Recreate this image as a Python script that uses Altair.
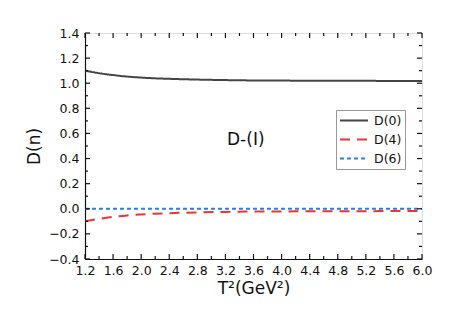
import altair as alt
import pandas as pd

# Data
t2 = [1.2, 1.4, 1.6, 1.8, 2.0, 2.2, 2.4, 2.8, 3.2, 3.6, 4.0, 4.4, 4.8, 5.2, 5.6, 6.0]
d0 = [1.100, 1.080, 1.065, 1.053, 1.045, 1.039, 1.035, 1.029, 1.025, 1.022, 1.021, 1.020, 1.019, 1.019, 1.018, 1.018]
d4 = [-0.100, -0.080, -0.065, -0.053, -0.045, -0.039, -0.035, -0.029, -0.025, -0.022, -0.021, -0.020, -0.019, -0.019, -0.018, -0.018]
d6 = [0.0] * len(t2)
series = ["D(0)", "D(4)", "D(6)"]
colors = ["#444444", "#ee3333", "#2a7ee8"]
dashes = [[1, 0], [10, 7], [4, 3]]

x_major = [1.2, 1.6, 2.0, 2.4, 2.8, 3.2, 3.6, 4.0, 4.4, 4.8, 5.2, 5.6, 6.0]
x_minor = [1.4, 1.8, 2.2, 2.6, 3.0, 3.4, 3.8, 4.2, 4.6, 5.0, 5.4, 5.8]
y_major = [-0.4, -0.2, 0.0, 0.2, 0.4, 0.6, 0.8, 1.0, 1.2, 1.4]
y_minor = [-0.3, -0.1, 0.1, 0.3, 0.5, 0.7, 0.9, 1.1, 1.3]

W, H = 337, 226
FONT = "DejaVu Sans"

rows = []
for name, vals in zip(series, [d0, d4, d6]):
    for x, v in zip(t2, vals):
        rows.append({"T2": x, "D": v, "series": name})
df = pd.DataFrame(rows)

xs = alt.Scale(domain=[1.2, 6.0], nice=False, zero=False)
ys = alt.Scale(domain=[-0.4, 1.4], nice=False, zero=False)

axis_common = dict(format=".1f", ticks=False, grid=False, labelOverlap=False,
                   labelFlush=False, labelBound=False, labelFontSize=12.5,
                   titleFontSize=17, titleFontWeight="normal", labelFont=FONT,
                   titleFont=FONT, labelColor="#111", titleColor="#111",
                   domainColor="#111", domainWidth=1.2)
x_axis = alt.Axis(values=x_major, labelPadding=5, titlePadding=4, **axis_common)
y_axis = alt.Axis(values=y_major, labelPadding=6, titlePadding=5, **axis_common)
X_TITLE = "T²(GeV²)"
Y_TITLE = "D(n)"

lines = alt.Chart(df).mark_line(strokeWidth=2, interpolate="monotone").encode(
    x=alt.X("T2:Q", scale=xs, title=X_TITLE, axis=x_axis),
    y=alt.Y("D:Q", scale=ys, title=Y_TITLE, axis=y_axis),
    color=alt.Color("series:N", scale=alt.Scale(domain=series, range=colors),
                    legend=alt.Legend(title=None, orient="none", legendX=251, legendY=77,
                                      symbolType="stroke", symbolSize=784,
                                      symbolStrokeWidth=2, labelFontSize=12.5,
                                      labelFont=FONT, labelColor="#111",
                                      strokeColor="#999", padding=3, rowPadding=4,
                                      clipHeight=15, labelOffset=5)),
    strokeDash=alt.StrokeDash("series:N", scale=alt.Scale(domain=series, range=dashes),
                              legend=None),
)

def X(field):
    return alt.X(field, scale=xs, title=X_TITLE, axis=x_axis)

def Y(field):
    return alt.Y(field, scale=ys, title=Y_TITLE, axis=y_axis)

def xticks(vals, length, top):
    d = pd.DataFrame({"v": vals})
    if top:
        return alt.Chart(d).mark_rule(color="#111", strokeWidth=1.2).encode(
            x=X("v:Q"), y=alt.value(0), y2=alt.value(length))
    return alt.Chart(d).mark_rule(color="#111", strokeWidth=1.2).encode(
        x=X("v:Q"), y=alt.value(H), y2=alt.value(H - length))

def yticks(vals, length, right):
    d = pd.DataFrame({"v": vals})
    if right:
        return alt.Chart(d).mark_rule(color="#111", strokeWidth=1.2).encode(
            y=Y("v:Q"), x=alt.value(W), x2=alt.value(W - length))
    return alt.Chart(d).mark_rule(color="#111", strokeWidth=1.2).encode(
        y=Y("v:Q"), x=alt.value(0), x2=alt.value(length))

ticks = [
    xticks(x_major, 5, False), xticks(x_minor, 3, False),
    xticks(x_major, 5, True), xticks(x_minor, 3, True),
    yticks(y_major, 5, False), yticks(y_minor, 3, False),
    yticks(y_major, 5, True), yticks(y_minor, 3, True),
]

label = alt.Chart(pd.DataFrame({"x": [3.49], "y": [0.548], "t": ["D-(I)"]})).mark_text(
    fontSize=17, font=FONT, color="#111").encode(
    x=X("x:Q"), y=Y("y:Q"), text="t:N")

chart = alt.layer(lines, *ticks, label).properties(
    width=W, height=H,
    padding={"left": 77, "top": 25, "right": 28, "bottom": 50},
    autosize=alt.AutoSizeParams(type="none"),
).configure_view(stroke="#111", strokeWidth=1.2).configure(background="white")

chart.save("out.html", embed_options={"renderer": "svg", "actions": False})
